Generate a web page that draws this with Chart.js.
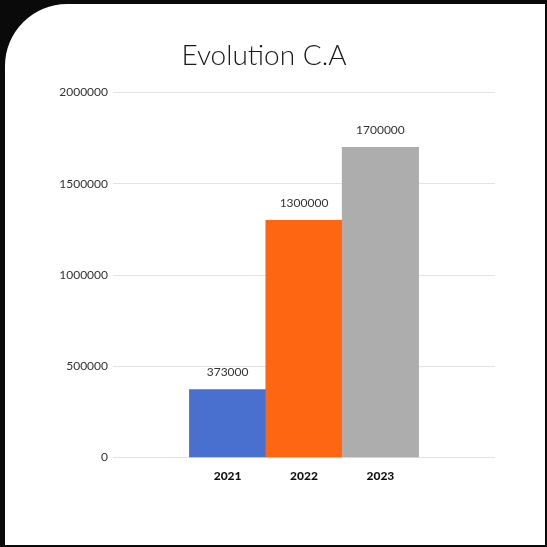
<!DOCTYPE html>
<html>
<head>
<meta charset="utf-8">
<script src="https://cdn.jsdelivr.net/npm/chart.js@4"></script>
<style>
  html, body { margin: 0; padding: 0; background: #0a0a0a; }
  #card {
    position: absolute; left: 5px; top: 4px; width: 540px; height: 541px;
    background: #fff; border-top-left-radius: 62px;
  }
  #wrap { position: absolute; left: 0; top: 0; width: 547px; height: 547px; }
</style>
</head>
<body>
<div id="card"></div>
<div id="wrap"><canvas id="caChart" width="547" height="547"></canvas></div>
<script>
// Data
const years = ['2021', '2022', '2023'];
const revenue = [373000, 1300000, 1700000];
const barColors = ['#4a70cf', '#ff6611', '#adadad'];
const yTicks = [0, 500000, 1000000, 1500000, 2000000];

// one empty slot each side so the bars sit in the middle of the axis
const labels = [''].concat(years, ['']);
const values = [null].concat(revenue, [null]);
const colors = ['#fff'].concat(barColors, ['#fff']);

// values written above the bars
const valueLabels = {
    id: 'valueLabels',
    afterDatasetsDraw(chart) {
        const ctx = chart.ctx;
        const meta = chart.getDatasetMeta(0);
        ctx.save();
        ctx.font = '12px Lato';
        ctx.fillStyle = '#333';
        ctx.textAlign = 'center';
        ctx.textBaseline = 'middle';
        meta.data.forEach((bar, i) => {
            const v = values[i];
            if (v == null) return;
            ctx.fillText(String(v), bar.x, bar.y - 17);
        });
        ctx.restore();
    }
};

const ctx = document.getElementById('caChart').getContext('2d');
new Chart(ctx, {
    type: 'bar',
    data: {
        labels: labels,
        datasets: [{
            data: values,
            backgroundColor: colors,
            borderWidth: 0,
            barPercentage: 1,
            categoryPercentage: 1
        }]
    },
    options: {
        responsive: false,
        animation: false,
        layout: { padding: { left: 0, right: 19, top: 0, bottom: 61 } },
        plugins: {
            legend: { display: false },
            tooltip: { enabled: false },
            title: {
                display: true,
                text: 'Evolution C.A',
                color: '#1a1a1a',
                font: { family: 'Lato', size: 28, weight: '300', lineHeight: 1.2 },
                padding: { top: 39, bottom: 20 }
            }
        },
        scales: {
            x: {
                grid: { display: false },
                border: { display: false },
                ticks: {
                    color: '#111',
                    padding: 3,
                    font: { family: 'Lato', size: 12, weight: '900' }
                }
            },
            y: {
                min: 0,
                max: 2000000,
                afterFit(scale) { scale.width = 113; },
                afterBuildTicks(scale) { scale.ticks = yTicks.map(v => ({ value: v })); },
                grid: { color: '#e3e3e3', lineWidth: 1, drawTicks: false },
                border: { display: false },
                ticks: {
                    color: '#333',
                    padding: 5,
                    font: { family: 'Lato', size: 12 },
                    callback: v => String(v)
                }
            },
            // empty right-hand axis, only keeps the plot clear of the right edge
            yRight: {
                position: 'right',
                min: 0,
                max: 2000000,
                afterFit(scale) { scale.width = 33; },
                grid: { display: false },
                border: { display: false },
                ticks: { display: false }
            }
        }
    },
    plugins: [valueLabels]
});
</script>
</body>
</html>
